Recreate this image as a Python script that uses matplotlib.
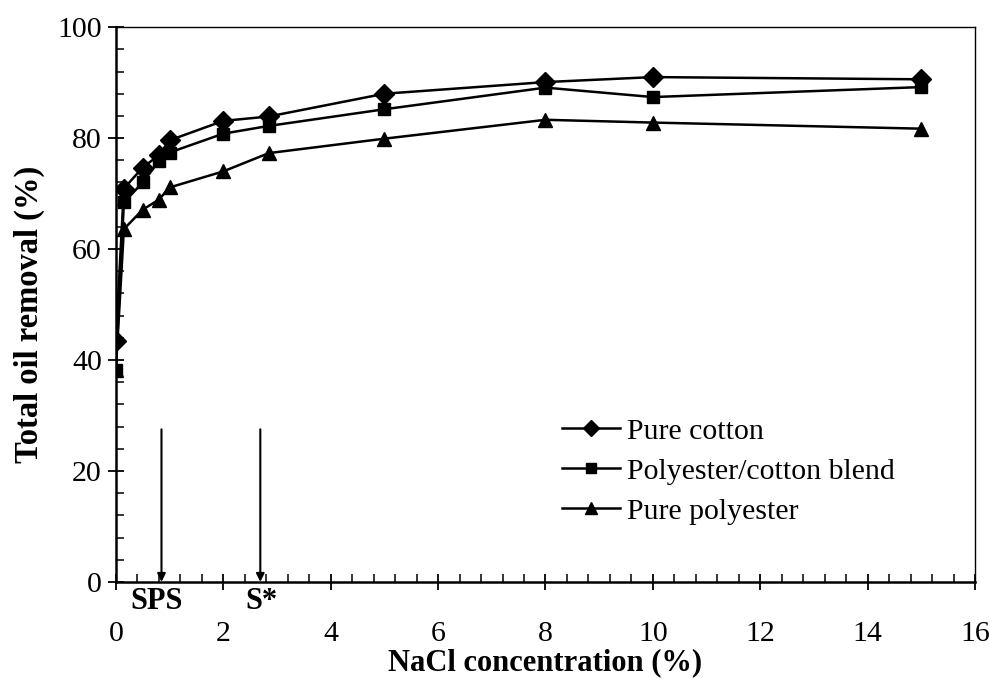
import matplotlib
matplotlib.use("Agg")
import matplotlib.pyplot as plt
from matplotlib.ticker import MultipleLocator

# NaCl concentration (%)
nacl = [0, 0.15, 0.5, 0.8, 1.0, 2.0, 2.85, 5.0, 8.0, 10.0, 15.0]

# Total oil removal (%)
pure_cotton = [43.5, 70.9, 74.7, 76.9, 79.6, 83.1, 83.9, 88.0, 90.1, 91.0, 90.6]
blend = [38.2, 68.4, 72.0, 75.8, 77.4, 80.8, 82.2, 85.2, 89.1, 87.4, 89.2]
pure_polyester = [38.2, 63.6, 67.1, 68.9, 71.1, 74.0, 77.3, 79.9, 83.3, 82.8, 81.7]

labels = ["Pure cotton", "Polyester/cotton blend", "Pure polyester"]

# Marked concentrations
markers_x = [0.85, 2.69]
markers_text = ["SPS", "S*"]
markers_text_x = [0.76, 2.72]
arrow_top = 27.5

plt.rcParams["font.family"] = ["Liberation Serif", "DejaVu Serif"]

fig = plt.figure(figsize=(9.9, 6.79), dpi=100)
ax = fig.add_axes([0.117, 0.143, 0.868, 0.817])

ax.plot(nacl, pure_cotton, color="black", lw=1.8, marker="D", ms=10,
        label=labels[0])
ax.plot(nacl, blend, color="black", lw=1.8, marker="s", ms=8.5,
        label=labels[1])
ax.plot(nacl, pure_polyester, color="black", lw=1.8, marker="^", ms=10,
        label=labels[2])

for xv in markers_x:
    ax.annotate("", xy=(xv, 0), xytext=(xv, arrow_top),
                arrowprops=dict(arrowstyle="-|>", color="black", lw=1.5,
                                mutation_scale=12, shrinkA=0, shrinkB=0))

for xv, txt in zip(markers_text_x, markers_text):
    ax.annotate(txt, xy=(xv, 0), xytext=(0, -14), textcoords="offset points",
                ha="center", va="center", fontsize=22, fontweight="bold")

ax.set_xlim(0, 16)
ax.set_ylim(0, 100)
ax.xaxis.set_major_locator(MultipleLocator(2))
ax.xaxis.set_minor_locator(MultipleLocator(0.4))
ax.yaxis.set_major_locator(MultipleLocator(20))
ax.yaxis.set_minor_locator(MultipleLocator(4))

ax.tick_params(axis="both", which="major", direction="inout", length=12,
               width=1.3, labelsize=21.5, colors="black")
ax.tick_params(axis="both", which="minor", direction="in", length=6,
               width=1.1)
ax.tick_params(axis="x", which="major", pad=22)
ax.tick_params(axis="y", which="major", pad=4)

for side in ["left", "bottom"]:
    ax.spines[side].set_linewidth(1.8)
for side in ["top", "right"]:
    ax.spines[side].set_linewidth(1.0)

ax.set_xlabel("NaCl concentration (%)", fontsize=22, fontweight="bold",
              labelpad=1)
ax.set_ylabel("Total oil removal (%)", fontsize=23.5, fontweight="bold")
ax.yaxis.set_label_coords(-0.083, 0.483)

ax.legend(loc="upper left", bbox_to_anchor=(0.519, 0.296), frameon=False,
          borderpad=0, borderaxespad=0,
          fontsize=21.5, handlelength=1.95, handletextpad=0.23,
          labelspacing=0.44, markerscale=0.8)

fig.savefig("out.png", dpi=100)
